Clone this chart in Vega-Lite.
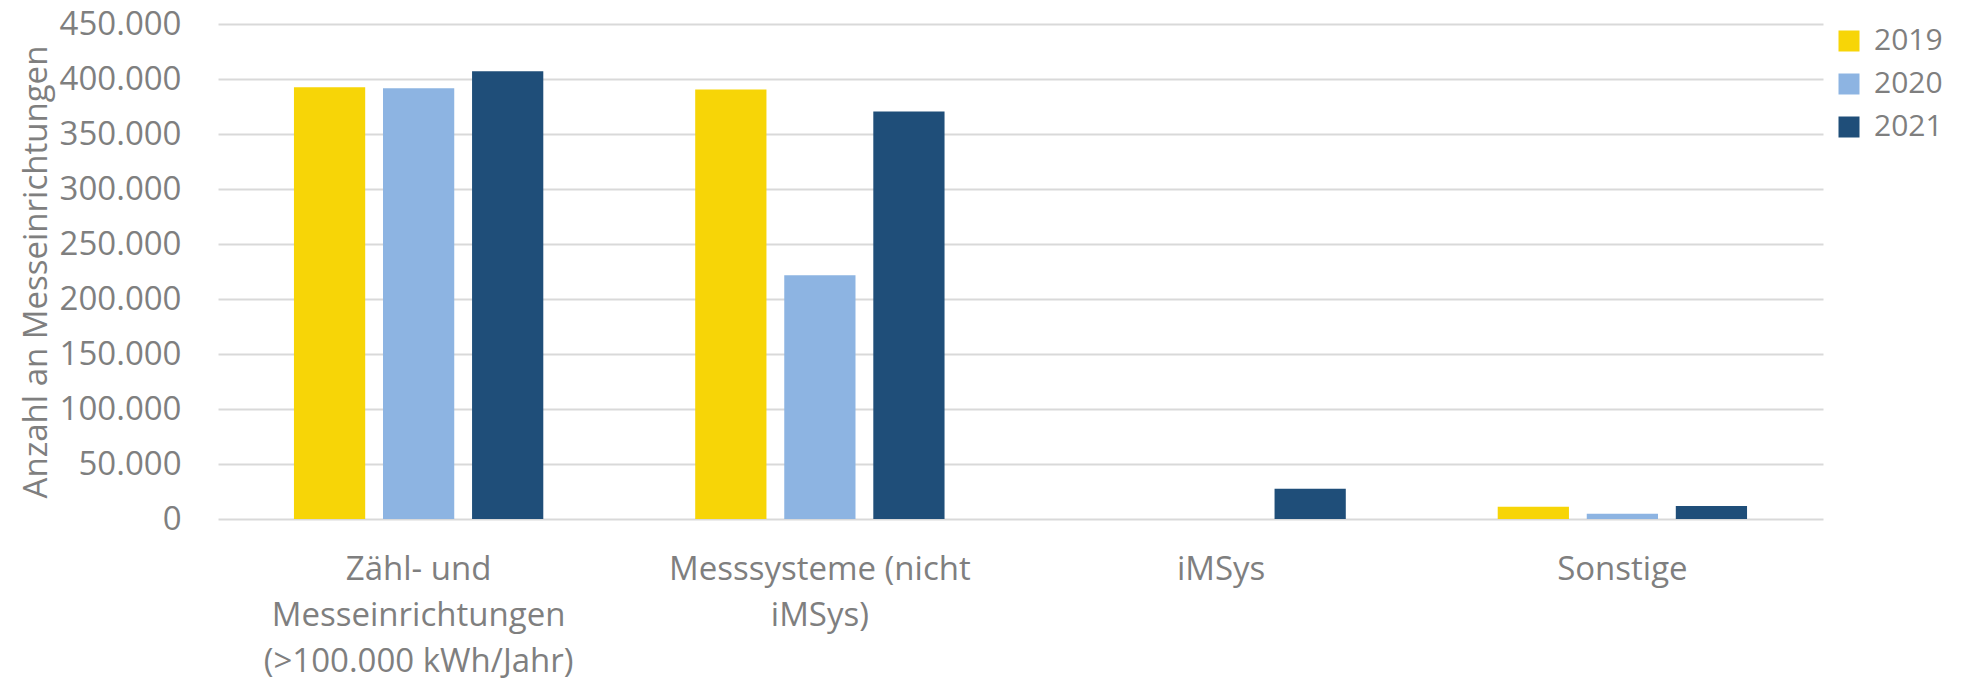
{
  "$schema": "https://vega.github.io/schema/vega-lite/v6.json",
  "width": 1605,
  "height": 495,
  "autosize": "none",
  "padding": {"left": 218, "top": 24, "right": 139, "bottom": 163},
  "background": "white",
  "config": {
    "view": {"stroke": null},
    "font": "Open Sans",
    "axis": {"labelColor": "#7F7F7F", "titleColor": "#7F7F7F", "labelFont": "Open Sans", "titleFont": "Open Sans"},
    "legend": {"labelColor": "#7F7F7F"}
  },
  "data": {
    "values": [
      {"Kategorie": "Zähl- und Messeinrichtungen (>100.000 kWh/Jahr)", "Jahr": "2019", "Anzahl": 392500},
      {"Kategorie": "Zähl- und Messeinrichtungen (>100.000 kWh/Jahr)", "Jahr": "2020", "Anzahl": 391500},
      {"Kategorie": "Zähl- und Messeinrichtungen (>100.000 kWh/Jahr)", "Jahr": "2021", "Anzahl": 407000},
      {"Kategorie": "Messsysteme (nicht iMSys)", "Jahr": "2019", "Anzahl": 390500},
      {"Kategorie": "Messsysteme (nicht iMSys)", "Jahr": "2020", "Anzahl": 221500},
      {"Kategorie": "Messsysteme (nicht iMSys)", "Jahr": "2021", "Anzahl": 370500},
      {"Kategorie": "iMSys", "Jahr": "2021", "Anzahl": 27500},
      {"Kategorie": "Sonstige", "Jahr": "2019", "Anzahl": 11200},
      {"Kategorie": "Sonstige", "Jahr": "2020", "Anzahl": 4800},
      {"Kategorie": "Sonstige", "Jahr": "2021", "Anzahl": 11800}
    ]
  },
  "mark": {"type": "bar"},
  "encoding": {
    "x": {
      "field": "Kategorie",
      "type": "nominal",
      "sort": null,
      "scale": {"domain": ["Zähl- und Messeinrichtungen (>100.000 kWh/Jahr)", "Messsysteme (nicht iMSys)", "iMSys", "Sonstige"], "paddingInner": 0, "paddingOuter": 0},
      "axis": {
        "title": null,
        "labelAngle": 0,
        "domain": false,
        "ticks": false,
        "tickSize": 0,
        "labelFontSize": 33,
        "labelLineHeight": 46,
        "labelBaseline": "top",
        "labelPadding": 34,
        "labelLimit": 400,
        "labelExpr": "datum.value == 'Zähl- und Messeinrichtungen (>100.000 kWh/Jahr)' ? ['Zähl- und', 'Messeinrichtungen', '(>100.000 kWh/Jahr)'] : datum.value == 'Messsysteme (nicht iMSys)' ? ['Messsysteme (nicht', 'iMSys)'] : datum.value"
      }
    },
    "xOffset": {
      "field": "Jahr",
      "type": "nominal",
      "scale": {"domain": ["2019", "2020", "2021"], "paddingInner": 0.2, "paddingOuter": 0.853}
    },
    "y": {
      "field": "Anzahl",
      "type": "quantitative",
      "scale": {"domain": [0, 450000], "nice": false},
      "axis": {
        "title": "Anzahl an Messeinrichtungen",
        "titleFontSize": 33,
        "titleFontWeight": "normal",
        "titleAngle": 270,
        "titleX": -182,
        "titleY": 247.5,
        "titleAlign": "center",
        "titleBaseline": "middle",
        "values": [0, 50000, 100000, 150000, 200000, 250000, 300000, 350000, 400000, 450000],
        "labelExpr": "replace(format(datum.value, ',d'), /,/g, '.')",
        "labelFontSize": 33,
        "labelPadding": 37,
        "ticks": false,
        "tickSize": 0,
        "domain": false,
        "grid": true,
        "gridColor": "#D9D9D9",
        "gridWidth": 2
      }
    },
    "color": {
      "field": "Jahr",
      "type": "nominal",
      "scale": {"domain": ["2019", "2020", "2021"], "range": ["#F7D507", "#8DB4E2", "#1F4E79"]},
      "legend": {
        "title": null,
        "orient": "none",
        "legendX": 1616,
        "legendY": 2,
        "symbolType": "square",
        "symbolSize": 441,
        "symbolStrokeWidth": 0,
        "labelFontSize": 30,
        "labelOffset": 10,
        "rowPadding": 13
      }
    }
  }
}
